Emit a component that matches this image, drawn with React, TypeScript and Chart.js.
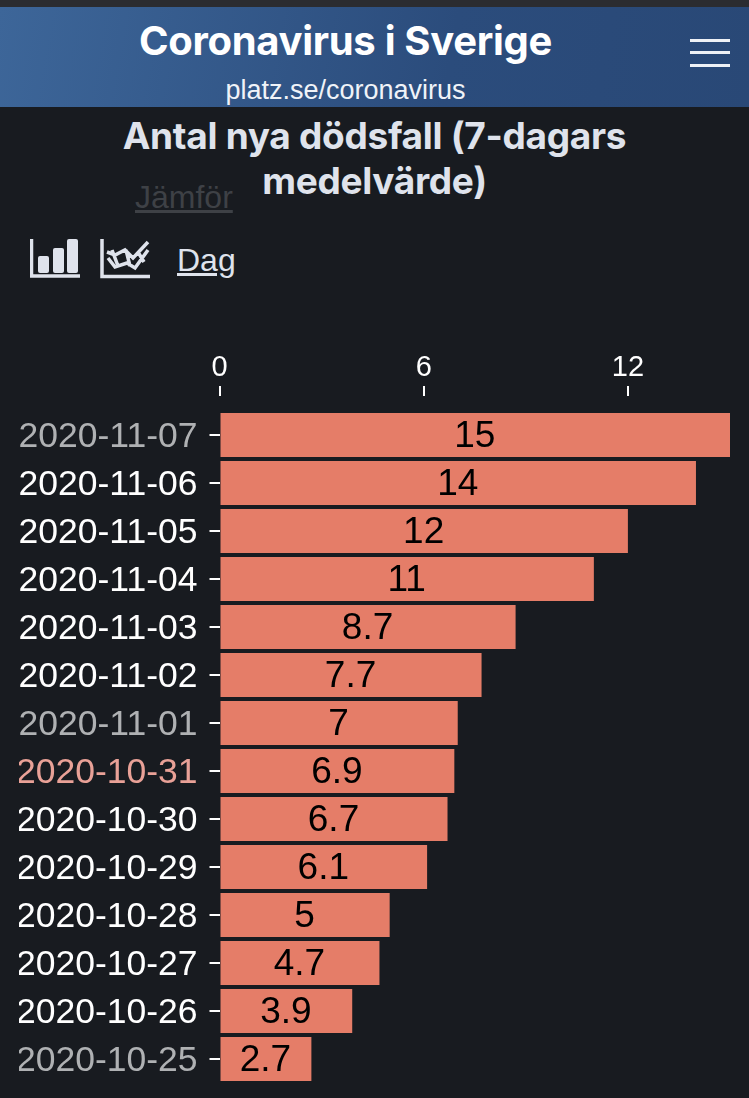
import { useEffect, useRef } from 'react';
import Chart from 'chart.js/auto';

const DATES = [
  '2020-11-07', '2020-11-06', '2020-11-05', '2020-11-04', '2020-11-03', '2020-11-02', '2020-11-01',
  '2020-10-31', '2020-10-30', '2020-10-29', '2020-10-28', '2020-10-27', '2020-10-26', '2020-10-25'
];
const VALUES = [15, 14, 12, 11, 8.7, 7.7, 7, 6.9, 6.7, 6.1, 5, 4.7, 3.9, 2.7];
const GREY_DATES = ['2020-11-07', '2020-11-01', '2020-10-25'];
const PINK_DATES = ['2020-10-31'];

const BG = '#181b20';
const BAR = '#e57d68';
const WHITE = '#ffffff';
const GREY = '#afb1b3';
const PINK = '#e9a197';
const LIGHT = '#dfe3ec';

const labelColor = (date: string) => {
  if (GREY_DATES.includes(date)) return GREY;
  if (PINK_DATES.includes(date)) return PINK;
  return WHITE;
};

const barLabels = {
  id: 'barLabels',
  afterDatasetsDraw(chart: Chart) {
    const { ctx } = chart;
    const meta = chart.getDatasetMeta(0);
    ctx.save();
    ctx.fillStyle = '#000000';
    ctx.font = '37px "Liberation Sans"';
    ctx.textAlign = 'center';
    ctx.textBaseline = 'middle';
    meta.data.forEach((bar: any, i: number) => {
      const left = chart.scales.x.getPixelForValue(0);
      ctx.fillText(String(VALUES[i]), (left + bar.x) / 2, bar.y + 2);
    });
    ctx.restore();
  }
};

const abs = (style: React.CSSProperties): React.CSSProperties => ({ position: 'absolute', ...style });

export default function App() {
  const canvasRef = useRef<HTMLCanvasElement | null>(null);

  useEffect(() => {
    if (!canvasRef.current) return;
    const chart = new Chart(canvasRef.current, {
      type: 'bar',
      data: {
        labels: DATES,
        datasets: [
          {
            data: VALUES,
            backgroundColor: BAR,
            barPercentage: 44 / 48,
            categoryPercentage: 1
          }
        ]
      },
      plugins: [barLabels],
      options: {
        indexAxis: 'y',
        animation: false,
        responsive: false,
        maintainAspectRatio: false,
        layout: { padding: { top: 0, right: 19, bottom: 0, left: 0 } },
        plugins: {
          legend: { display: false },
          tooltip: { enabled: false },
          title: { display: false }
        },
        scales: {
          x: {
            position: 'top',
            min: 0,
            max: 15,
            border: { display: false },
            afterFit: (scale: any) => {
              scale.height = 71;
            },
            grid: {
              drawOnChartArea: false,
              color: WHITE,
              lineWidth: 2,
              tickLength: 25,
              tickBorderDash: [10, 100]
            },
            ticks: {
              stepSize: 6,
              includeBounds: false,
              color: WHITE,
              padding: 1,
              maxRotation: 0,
              font: { family: '"Liberation Sans"', size: 29 }
            }
          },
          y: {
            border: { display: false },
            afterFit: (scale: any) => {
              scale.width = 200.5;
            },
            grid: {
              offset: false,
              drawOnChartArea: false,
              color: WHITE,
              lineWidth: 2,
              tickLength: 10
            },
            ticks: {
              autoSkip: false,
              padding: 12,
              // empty first line nudges the date down to sit level with its tick
              callback: (_v: any, i: number) => ['', DATES[i]],
              color: (ctx: any) => labelColor(DATES[ctx.index]),
              font: { family: '"Liberation Sans"', size: 35.5, lineHeight: '4px' }
            }
          }
        }
      }
    });
    return () => chart.destroy();
  }, []);

  return (
    <div style={abs({ left: 0, top: 0, width: 749, height: 1098, background: BG, overflow: 'hidden', fontFamily: '"Liberation Sans"' })}>
      <div style={abs({ left: 0, top: 0, width: 749, height: 7, background: '#2b2c30' })} />
      <div style={abs({ left: 0, top: 7, width: 749, height: 100, background: 'linear-gradient(100deg, #3d6699 0%, #2b4c7c 60%, #294876 100%)' })} />
      <div style={abs({ left: 0, top: 16, width: 691, textAlign: 'center', color: WHITE, fontFamily: 'Inter', fontWeight: 700, fontSize: 40, lineHeight: '50px', letterSpacing: -0.3 })}>
        Coronavirus i Sverige
      </div>
      <div style={abs({ left: 0, top: 74, width: 691, textAlign: 'center', color: '#f0f3f8', fontSize: 27, lineHeight: '32px' })}>
        platz.se/coronavirus
      </div>
      {[39, 51, 64].map((y) => (
        <div key={y} style={abs({ left: 690, top: y, width: 40, height: 3, background: '#eef1f6' })} />
      ))}
      <div style={abs({ left: 0, top: 113, width: 749, textAlign: 'center', color: LIGHT, fontFamily: 'Inter', fontWeight: 700, fontSize: 37, lineHeight: '45px', letterSpacing: -0.3 })}>
        Antal nya dödsfall (7-dagars
        <br />
        medelvärde)
      </div>
      <div style={abs({ left: 135, top: 180, color: '#3e4146', fontSize: 32, lineHeight: '34px', textDecoration: 'underline' })}>Jämför</div>
      <div style={abs({ left: 177, top: 243, color: LIGHT, fontSize: 32, lineHeight: '34px', textDecoration: 'underline' })}>Dag</div>
      <svg style={abs({ left: 30, top: 238, width: 122, height: 42 })} viewBox="0 0 122 42">
        <path d="M1.5 1 V38 H50 M72 1 V38.5 H120" fill="none" stroke={LIGHT} strokeWidth="3.5" />
        <rect x="8" y="18" width="11" height="17" rx="2" fill={LIGHT} />
        <rect x="23" y="10" width="11" height="25" rx="2" fill={LIGHT} />
        <rect x="37" y="1" width="11" height="34" rx="2" fill={LIGHT} />
        <path d="M77 14 L85 17 L95 12 L103 20 L118 4 M78 20 L85 29 L97 25 L105 30 L118 12 M82 12 L88 28 M96 12 L100 28 M108 14 L114 24" fill="none" stroke={LIGHT} strokeWidth="3.5" />
      </svg>
      <canvas ref={canvasRef} width={730} height={759} style={abs({ left: 19, top: 340, width: 730, height: 759 })} />
    </div>
  );
}
